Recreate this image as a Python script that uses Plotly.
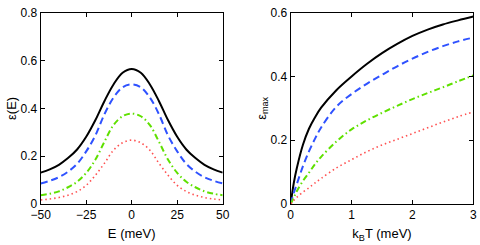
import plotly.graph_objects as go
from plotly.subplots import make_subplots

# Left panel: epsilon(E)
E = [-50, -45, -40, -35, -30, -25, -20, -15, -10, -5, 0, 5, 10, 15, 20, 25, 30, 35, 40, 45, 50]
eps_black = [0.131, 0.145, 0.164, 0.192, 0.228, 0.281, 0.350, 0.430, 0.500, 0.549, 0.565,
             0.549, 0.500, 0.430, 0.350, 0.281, 0.228, 0.192, 0.164, 0.145, 0.131]
eps_blue = [0.086, 0.097, 0.112, 0.135, 0.168, 0.220, 0.286, 0.375, 0.445, 0.488, 0.500,
            0.488, 0.445, 0.375, 0.286, 0.220, 0.168, 0.135, 0.112, 0.097, 0.086]
eps_green = [0.037, 0.043, 0.053, 0.070, 0.093, 0.130, 0.185, 0.260, 0.330, 0.367, 0.378,
             0.367, 0.330, 0.260, 0.185, 0.130, 0.093, 0.070, 0.053, 0.043, 0.037]
eps_red = [0.017, 0.021, 0.027, 0.037, 0.052, 0.078, 0.120, 0.170, 0.225, 0.256, 0.267,
           0.256, 0.225, 0.170, 0.120, 0.078, 0.052, 0.037, 0.027, 0.021, 0.017]

# Right panel: epsilon_max(kBT)
T = [0, 0.05, 0.1, 0.2, 0.3, 0.4, 0.5, 0.75, 1.0, 1.25, 1.5, 1.75, 2.0, 2.25, 2.5, 2.75, 3.0]
max_black = [0, 0.065, 0.112, 0.185, 0.236, 0.272, 0.302, 0.357, 0.400, 0.439, 0.473, 0.502,
             0.527, 0.547, 0.563, 0.576, 0.588]
max_blue = [0, 0.035, 0.062, 0.118, 0.165, 0.205, 0.240, 0.305, 0.345, 0.377, 0.405, 0.432,
            0.456, 0.477, 0.495, 0.510, 0.522]
max_green = [0, 0.020, 0.040, 0.072, 0.098, 0.125, 0.148, 0.196, 0.234, 0.262, 0.286, 0.308,
             0.329, 0.348, 0.366, 0.385, 0.403]
max_red = [0, 0.011, 0.021, 0.037, 0.051, 0.066, 0.080, 0.113, 0.139, 0.164, 0.185, 0.203,
           0.221, 0.239, 0.257, 0.274, 0.289]

styles = [
    ("#000000", "solid", 2.0),
    ("#2f52ff", "7px,4px", 2.0),
    ("#5fe000", "6px,3px,1.5px,3px", 2.0),
    ("#ff5050", "1.5px,3px", 1.6),
]

fig = make_subplots(rows=1, cols=2)
for ys, (c, d, w) in zip([eps_black, eps_blue, eps_green, eps_red], styles):
    fig.add_trace(go.Scatter(x=E, y=ys, mode="lines", line=dict(color=c, dash=d, width=w, shape="spline"),
                             showlegend=False), row=1, col=1)
for ys, (c, d, w) in zip([max_black, max_blue, max_green, max_red], styles):
    fig.add_trace(go.Scatter(x=T, y=ys, mode="lines", line=dict(color=c, dash=d, width=w, shape="spline"),
                             showlegend=False), row=1, col=2)

font = dict(family="Liberation Sans, Arial, sans-serif", size=12, color="#000000")
axis_common = dict(showline=True, linecolor="#000000", linewidth=1, mirror="ticks",
                   ticks="inside", ticklen=4, tickcolor="#000000", showgrid=False,
                   zeroline=False, tickfont=font, automargin=False, ticklabeloverflow="allow")

W, H = 480, 245
ydom = [(H - 204) / H, (H - 12.7) / H]
tfont = dict(size=13, family=font["family"], color="#000000")
fig.update_xaxes(range=[-50, 50], tickvals=[-50, -25, 0, 25, 50], domain=[40.7 / W, 222.7 / W],
                 title=dict(text="E (meV)", font=tfont, standoff=7),
                 **axis_common, row=1, col=1)
fig.update_yaxes(range=[0, 0.8], tickvals=[0, 0.2, 0.4, 0.6, 0.8], ticktext=["0", "0.2", "0.4", "0.6", "0.8"],
                 domain=ydom,
                 title=dict(text="ε(E)", font=tfont, standoff=1),
                 **axis_common, row=1, col=1)
fig.update_xaxes(range=[0, 3], tickvals=[0, 1, 2, 3], domain=[290.7 / W, 473.3 / W],
                 title=dict(text="k<sub>B</sub>T (meV)", font=tfont, standoff=7),
                 **axis_common, row=1, col=2)
fig.update_yaxes(range=[0, 0.6], tickvals=[0, 0.2, 0.4, 0.6], ticktext=["0", "0.2", "0.4", "0.6"],
                 domain=ydom,
                 title=dict(text="ε<sub>max</sub>", font=tfont, standoff=1),
                 **axis_common, row=1, col=2)

fig.update_layout(width=W, height=H, margin=dict(l=0, r=0, t=0, b=0),
                  plot_bgcolor="#ffffff", paper_bgcolor="#ffffff", font=font)

# remove the default page margin so the 480x245 figure fills the window exactly
fig.write_html("out.html", config={"displayModeBar": False},
               post_script="document.body.style.margin='0';document.body.style.overflow='hidden';")
